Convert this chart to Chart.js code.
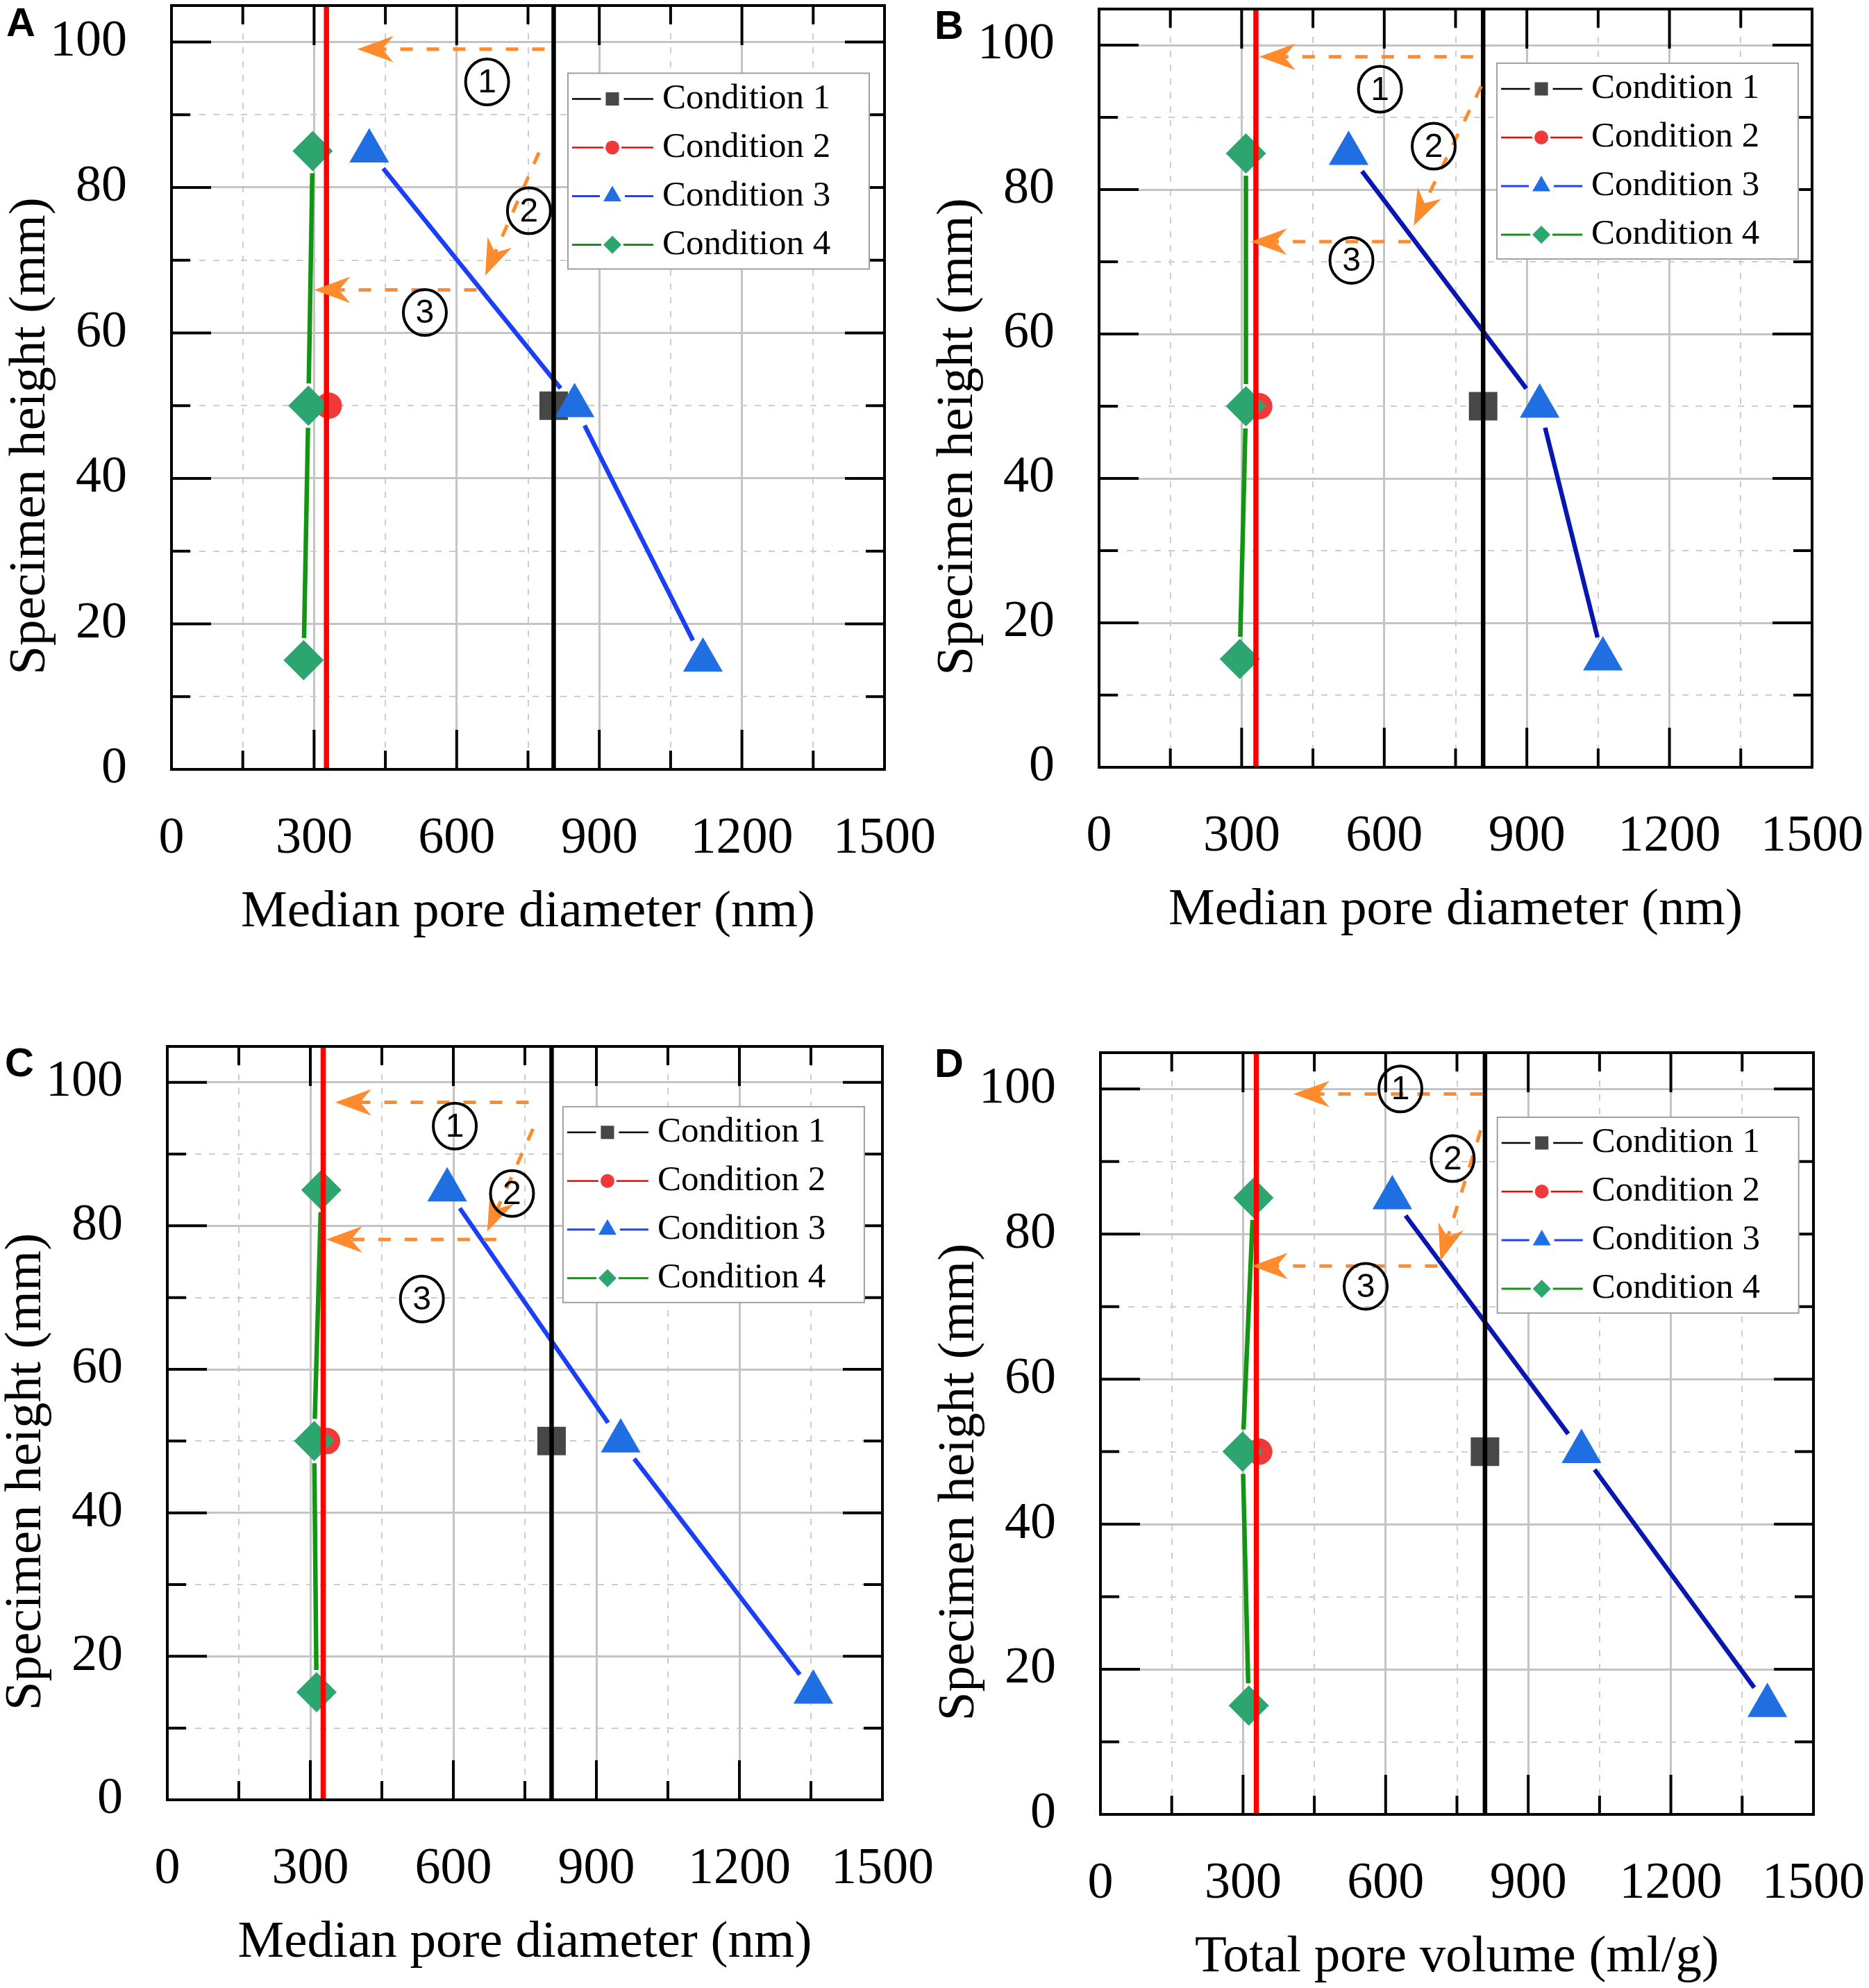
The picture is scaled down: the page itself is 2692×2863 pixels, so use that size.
<!DOCTYPE html>
<html>
<head>
<meta charset="utf-8">
<title>Specimen height vs pore structure</title>
<script src="https://cdn.jsdelivr.net/npm/chart.js@4.4.1/dist/chart.umd.min.js"></script>
<style>
  html, body { margin: 0; padding: 0; background: #fff; }
  body { position: relative; width: 2692px; height: 2863px; overflow: hidden; }
  canvas { position: absolute; }
  .tag { position: absolute; font: bold 58px "Liberation Sans", Arial, sans-serif; line-height: 58px; color: #000; }
</style>
</head>
<body>
<script>
const panelIds = ['A', 'B', 'C', 'D'];
const heights = [85, 50, 15];
const xTickValues = [0, 300, 600, 900, 1200, 1500];
const yTickValues = [0, 20, 40, 60, 80, 100];
const xTitles = ['Median pore diameter (nm)', 'Median pore diameter (nm)', 'Median pore diameter (nm)', 'Total pore volume (ml/g)'];
const yTitle = 'Specimen height (mm)';
const legendNames = ['Condition 1', 'Condition 2', 'Condition 3', 'Condition 4'];

// Condition 1 / 2: one value per panel (drawn as a vertical line), point at 50 mm
const cond1 = [804, 808, 806, 809];
const cond2Line = [326, 330, 327, 328];
const cond2Point = [331, 337, 335, 334];

// Condition 3 / 4: values at 85, 50 and 15 mm
const cond3A = [416, 848, 1118];
const cond3B = [525, 927, 1060];
const cond3C = [587, 951, 1355];
const cond3D = [614, 1012, 1403];
const cond4A = [297, 288, 278];
const cond4B = [309, 309, 296];
const cond4C = [323, 308, 313];
const cond4D = [322, 299, 312];

// orange arrows [fromX, fromY, toX, toY] and circled step numbers [x, y]
const arrowsA = [[785, 99.0, 391, 99.0], [773, 84.8, 660, 67.9], [642, 65.9, 300, 65.9]];
const arrowsB = [[787, 98.4, 337, 98.4], [804, 94.3, 662, 75.0], [656, 72.8, 319, 72.8]];
const arrowsC = [[758, 97.2, 352, 97.2], [767, 93.5, 671, 79.2], [690, 78.1, 333, 78.1]];
const arrowsD = [[804, 99.3, 406, 99.3], [800, 94.3, 715, 76.3], [709, 75.6, 318, 75.6]];
const stepsA = [[664, 94.5], [752, 76.8], [533, 62.8]];
const stepsB = [[591, 93.9], [704, 86.0], [531, 70.2]];
const stepsC = [[603, 93.9], [723, 84.5], [534, 69.8]];
const stepsD = [[631, 100.0], [741, 90.4], [558, 72.8]];

const cond3 = [cond3A, cond3B, cond3C, cond3D];
const cond4 = [cond4A, cond4B, cond4C, cond4D];
const arrows = [arrowsA, arrowsB, arrowsC, arrowsD];
const steps = [stepsA, stepsB, stepsC, stepsD];

// page layout of each plot box (pixels)
const panels = {
  A: { left: 247, top: 8, w: 1027, h: 1100, tag: [9, 52], legend: [834, 95.7], blue: '#1b3ff2' },
  B: { left: 1583, top: 13, w: 1027, h: 1092, tag: [1346, 56], legend: [837, 97.5], blue: '#0a16b0' },
  C: { left: 241, top: 1507, w: 1030, h: 1085, tag: [7, 1550], legend: [830, 96.6], blue: '#1b3ff2' },
  D: { left: 1585, top: 1516, w: 1027, h: 1097, tag: [1346, 1551], legend: [835, 96.1], blue: '#0a16b0' }
};

const SERIF = '"Liberation Serif", "Times New Roman", serif';
const ORANGE = '#ff8b2c';
const PAD_L = 240, PAD_T = 120, PAD_R = 140, PAD_B = 300;

const isMajorX = v => v % 300 === 0;
const isMajorY = v => v % 20 === 0;

function drawArrow(ctx, x1, y1, x2, y2) {
  const ang = Math.atan2(y2 - y1, x2 - x1);
  const L = 52, W = 19, N = 36;
  ctx.save();
  ctx.strokeStyle = ORANGE;
  ctx.lineWidth = 5;
  ctx.setLineDash([18, 20]);
  ctx.beginPath();
  ctx.moveTo(x1, y1);
  ctx.lineTo(x2 - Math.cos(ang) * N, y2 - Math.sin(ang) * N);
  ctx.stroke();
  ctx.setLineDash([]);
  ctx.translate(x2, y2);
  ctx.rotate(ang);
  ctx.fillStyle = ORANGE;
  ctx.beginPath();
  ctx.moveTo(0, 0);
  ctx.lineTo(-L, -W);
  ctx.lineTo(-N, 0);
  ctx.lineTo(-L, W);
  ctx.closePath();
  ctx.fill();
  ctx.restore();
}

panelIds.forEach((id, i) => {
  const p = panels[id];
  const cw = PAD_L + p.w + PAD_R;
  const ch = PAD_T + p.h + PAD_B;
  const cv = document.createElement('canvas');
  cv.width = cw;
  cv.height = ch;
  cv.style.left = (p.left - PAD_L) + 'px';
  cv.style.top = (p.top - PAD_T) + 'px';
  cv.style.width = cw + 'px';
  cv.style.height = ch + 'px';
  document.body.appendChild(cv);

  const tag = document.createElement('div');
  tag.className = 'tag';
  tag.textContent = id;
  tag.style.left = p.tag[0] + 'px';
  tag.style.top = (p.tag[1] - 49) + 'px';
  document.body.appendChild(tag);

  const legendItems = [
    { line: '#000', lw: 2.5, fill: '#474747', style: 'rect', r: 13.5 },
    { line: '#ff0000', lw: 2.5, fill: '#f03a3a', style: 'circle', r: 10 },
    { line: '#2040ff', lw: 3, fill: '#1f6fe3', style: 'triangle', r: 15 },
    { line: '#129512', lw: 3, fill: '#2ca56f', style: 'rectRot', r: 13 }
  ];

  // connecting lines that stop short of the symbols
  const gapLines = {
    id: 'gapLines',
    beforeDatasetsDraw(chart) {
      const ctx = chart.ctx;
      chart.data.datasets.forEach((ds, k) => {
        if (!ds.gapLine) return;
        const pts = chart.getDatasetMeta(k).data;
        const g = ds.gapLine.gap;
        ctx.save();
        ctx.strokeStyle = ds.gapLine.color;
        ctx.lineWidth = ds.gapLine.width;
        for (let n = 0; n < pts.length - 1; n++) {
          const a = pts[n], b = pts[n + 1];
          const dx = b.x - a.x, dy = b.y - a.y, len = Math.hypot(dx, dy);
          ctx.beginPath();
          ctx.moveTo(a.x + dx / len * g, a.y + dy / len * g);
          ctx.lineTo(b.x - dx / len * g, b.y - dy / len * g);
          ctx.stroke();
        }
        ctx.restore();
      });
    }
  };

  // frame, inside ticks, arrows, step numbers and legend box
  const decorations = {
    id: 'decorations',
    afterDatasetsDraw(chart) {
      const { ctx, chartArea: a, scales: { x, y } } = chart;
      ctx.save();
      ctx.strokeStyle = '#000';
      ctx.lineWidth = 4;
      ctx.beginPath();
      x.ticks.forEach(t => {
        const px = x.getPixelForValue(t.value);
        const len = isMajorX(t.value) ? 57 : 27;
        ctx.moveTo(px, a.bottom); ctx.lineTo(px, a.bottom - len);
        ctx.moveTo(px, a.top); ctx.lineTo(px, a.top + len);
      });
      y.ticks.forEach(t => {
        const py = y.getPixelForValue(t.value);
        const len = isMajorY(t.value) ? 57 : 27;
        ctx.moveTo(a.left, py); ctx.lineTo(a.left + len, py);
        ctx.moveTo(a.right, py); ctx.lineTo(a.right - len, py);
      });
      ctx.stroke();
      ctx.strokeRect(a.left, a.top, a.right - a.left, a.bottom - a.top);
      ctx.restore();

      arrows[i].forEach(ar => {
        drawArrow(ctx, x.getPixelForValue(ar[0]), y.getPixelForValue(ar[1]),
          x.getPixelForValue(ar[2]), y.getPixelForValue(ar[3]));
      });

      ctx.save();
      steps[i].forEach((s, k) => {
        const cx = x.getPixelForValue(s[0]), cy = y.getPixelForValue(s[1]);
        ctx.strokeStyle = '#000';
        ctx.lineWidth = 4;
        ctx.beginPath();
        ctx.ellipse(cx, cy, 31, 33, 0, 0, Math.PI * 2);
        ctx.stroke();
        ctx.fillStyle = '#000';
        ctx.font = '48px "Liberation Sans", Arial, sans-serif';
        ctx.textAlign = 'center';
        ctx.textBaseline = 'middle';
        ctx.fillText(String(k + 1), cx, cy + 2);
      });
      ctx.restore();

      const lx = x.getPixelForValue(p.legend[0]);
      const ly = y.getPixelForValue(p.legend[1]);
      const LW = 434, LH = 282;
      ctx.save();
      ctx.fillStyle = '#fff';
      ctx.fillRect(lx, ly, LW, LH);
      ctx.strokeStyle = '#a0a0a0';
      ctx.lineWidth = 2;
      ctx.strokeRect(lx, ly, LW, LH);
      legendItems.forEach((it, k) => {
        const cy = ly + 37 + k * 70;
        const mx = lx + 64;
        ctx.strokeStyle = it.line;
        ctx.lineWidth = it.lw;
        ctx.beginPath();
        ctx.moveTo(lx + 6, cy); ctx.lineTo(mx - it.r - 3, cy);
        ctx.moveTo(mx + it.r + 3, cy); ctx.lineTo(lx + 123, cy);
        ctx.stroke();
        ctx.fillStyle = it.fill;
        Chart.helpers.drawPoint(ctx, { pointStyle: it.style, radius: it.r, borderWidth: 0, rotation: 0 }, mx, cy);
        ctx.fillStyle = '#000';
        ctx.font = '51px ' + SERIF;
        ctx.textAlign = 'left';
        ctx.textBaseline = 'middle';
        ctx.fillText(legendNames[k], lx + 136, cy);
      });
      ctx.restore();
    },
    afterDraw(chart) {
      const { ctx, chartArea: a } = chart;
      ctx.save();
      ctx.translate(a.left - 203, (a.top + a.bottom) / 2 + 70);
      ctx.rotate(-Math.PI / 2);
      ctx.fillStyle = '#000';
      ctx.font = '75px ' + SERIF;
      ctx.textAlign = 'center';
      ctx.textBaseline = 'middle';
      ctx.fillText(yTitle, 0, 0);
      ctx.restore();
    }
  };

  const gridColor = major => c => (c.tick && major(c.tick.value)) ? '#c4c4c4' : '#cdcdcd';
  const gridWidth = major => c => (c.tick && major(c.tick.value)) ? 3 : 2;
  const gridDash = major => c => (c.tick && !major(c.tick.value)) ? [9, 11] : [];

  new Chart(cv, {
    type: 'scatter',
    data: {
      datasets: [
        { label: 'Condition 1 line', data: [{ x: cond1[i], y: 0 }, { x: cond1[i], y: 105 }],
          showLine: true, borderColor: '#000', borderWidth: 6.5, pointRadius: 0, order: 0 },
        { label: 'Condition 2 line', data: [{ x: cond2Line[i], y: 0 }, { x: cond2Line[i], y: 105 }],
          showLine: true, borderColor: '#ff0000', borderWidth: 7.5, pointRadius: 0, order: 0 },
        { label: legendNames[0], data: [{ x: cond1[i], y: 50 }],
          pointStyle: 'rect', pointRadius: 29, backgroundColor: '#474747', pointBorderWidth: 0, order: 3 },
        { label: legendNames[1], data: [{ x: cond2Point[i], y: 50 }],
          pointStyle: 'circle', pointRadius: 19, backgroundColor: '#f03a3a', pointBorderWidth: 0, order: 5 },
        { label: legendNames[2], data: cond3[i].map((v, k) => ({ x: v, y: heights[k] })),
          pointStyle: 'triangle', pointRadius: 33, backgroundColor: '#1f6fe3', pointBorderWidth: 0, order: 2,
          gapLine: { color: p.blue, width: 6.5, gap: 32 } },
        { label: legendNames[3], data: cond4[i].map((v, k) => ({ x: v, y: heights[k] })),
          pointStyle: 'rectRot', pointRadius: 29, backgroundColor: '#2ca56f', pointBorderWidth: 0, order: 4,
          gapLine: { color: '#129512', width: 6.5, gap: 32 } }
      ]
    },
    options: {
      responsive: false,
      animation: false,
      devicePixelRatio: 1,
      events: [],
      layout: { padding: { left: 0, top: PAD_T, right: PAD_R, bottom: 0 } },
      plugins: { legend: { display: false }, tooltip: { enabled: false } },
      scales: {
        x: {
          type: 'linear', position: 'bottom', min: 0, max: 1500,
          ticks: {
            stepSize: 150, autoSkip: false, maxRotation: 0, includeBounds: false,
            padding: 56, color: '#000', font: { family: SERIF, size: 74, lineHeight: 1.2 },
            callback: v => xTickValues.includes(v) ? String(v) : ''
          },
          grid: { drawTicks: false, color: gridColor(isMajorX), lineWidth: gridWidth(isMajorX) },
          border: { display: false, dash: gridDash(isMajorX) },
          title: { display: true, text: xTitles[i], color: '#000',
            font: { family: SERIF, size: 75, lineHeight: 1 }, padding: { top: 0, bottom: 56 } },
          afterFit: s => { s.height = PAD_B; }
        },
        y: {
          type: 'linear', position: 'left', min: 0, max: 105,
          ticks: {
            stepSize: 10, autoSkip: false, includeBounds: false,
            padding: 64, color: '#000', font: { family: SERIF, size: 74, lineHeight: 1.2 },
            callback: v => yTickValues.includes(v) ? String(v) : ''
          },
          grid: { drawTicks: false, color: gridColor(isMajorY), lineWidth: gridWidth(isMajorY) },
          border: { display: false, dash: gridDash(isMajorY) },
          title: { display: false },
          afterFit: s => { s.width = PAD_L; }
        }
      }
    },
    plugins: [gapLines, decorations]
  });
});
</script>
</body>
</html>
